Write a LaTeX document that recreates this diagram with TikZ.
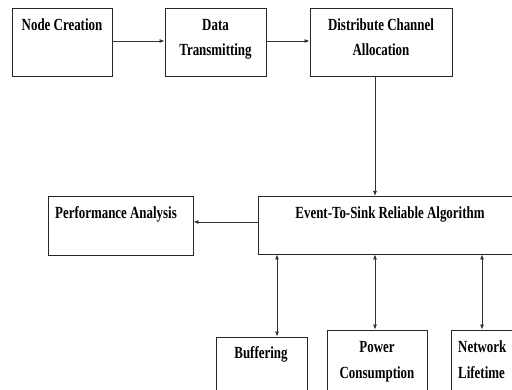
\documentclass[tikz,border=0pt]{standalone}
\usepackage{fontspec}
\setmainfont{Liberation Serif}
\newfontfamily\lblfont{Liberation Serif}[FakeStretch=0.76]
\usetikzlibrary{arrows.meta}
\begin{document}
\begin{tikzpicture}[x=1pt,y=-1pt,
  box/.style={draw=black!85,line width=0.9pt,inner sep=0pt},
  lbl/.style={font=\lblfont\bfseries\fontsize{17}{25}\selectfont,inner sep=0pt,align=center,anchor=base},
  conn/.style={draw=black!80,line width=0.8pt,-{Latex[length=5pt,width=4pt]}},
  dconn/.style={draw=black!80,line width=0.8pt,{Latex[length=5pt,width=4pt]}-{Latex[length=5pt,width=4pt]}}]
\useasboundingbox[fill=white] (0,0) rectangle (512,390);
% boxes
\node[box,minimum width=100pt,minimum height=68pt] (nc) at (62,42) {};
\node[box,minimum width=101pt,minimum height=68pt] (dt) at (215.5,42) {};
\node[box,minimum width=142pt,minimum height=68pt] (dca) at (381,42) {};
\node[box,minimum width=145pt,minimum height=59pt] (pa) at (120.5,225.5) {};
\node[box,minimum width=264pt,minimum height=58pt] (es) at (390,225) {};
\node[box,minimum width=91pt,minimum height=70pt] (bf) at (261.5,372) {};
\node[box,minimum width=100pt,minimum height=80pt] (pc) at (377,370) {};
\node[box,minimum width=80pt,minimum height=80pt] (nl) at (491,370) {};
% texts (anchored at last baseline)
\node[lbl] (tnc) at (62,30.7) {Node Creation};
\node[lbl] (tdt) at (215.5,55.7) {Data\\Transmitting};
\node[lbl] (tdca) at (381,55.7) {Distribute Channel\\Allocation};
\node[lbl] (tpa) at (116,218.5) {Performance Analysis};
\node[lbl] (tes) at (390,218.5) {Event-To-Sink Reliable Algorithm};
\node[lbl] (tbf) at (261,359) {Buffering};
\node[lbl] (tpc) at (377,378) {Power\\Consumption};
\node[lbl,anchor=base west,align=left] (tnl) at (458,378) {Network\\Lifetime};
% connectors
\coordinate (dcab) at (375,76);
\coordinate (est) at (375,196);
\draw[conn] (nc.east |- 0,41) -- (dt.west |- 0,41);
\draw[conn] (dt.east |- 0,41) -- (dca.west |- 0,41);
\draw[conn] (dcab) -- (est);
\draw[conn] (es.west |- 0,222) -- (pa.east |- 0,222);
\draw[dconn] (es.south -| 277,0) -- (bf.north -| 277,0);
\draw[dconn] (es.south -| 375,0) -- (pc.north -| 375,0);
\draw[dconn] (es.south -| 482,0) -- (nl.north -| 482,0);
\end{tikzpicture}
\end{document}
